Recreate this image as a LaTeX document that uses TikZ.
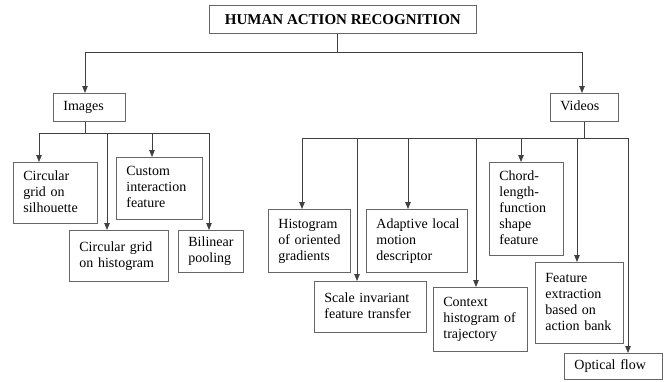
\documentclass[tikz,border=0pt]{standalone}
\usepackage{fontspec}
\setmainfont{Liberation Serif}
\usetikzlibrary{arrows.meta}
\newcommand\lines[1]{\begin{tabular}{@{}l@{}}#1\end{tabular}}
\tikzset{
  box/.style={draw=black!60, line width=0.8pt, anchor=north west, inner xsep=10pt, inner ysep=2pt,
    align=left, font=\fontsize{14}{16}\selectfont},
  conn/.style={draw=black!75, line width=0.8pt},
  arr/.style={conn, -{Triangle[length=7pt,width=5.5pt]}},
}
\begin{document}
\begin{tikzpicture}[x=1pt,y=-1pt]
\useasboundingbox (0,0) rectangle (667,381);
% boxes
\node[box, minimum width=267pt, minimum height=28pt, inner xsep=0pt, align=center,
      font=\fontsize{15}{16}\selectfont\bfseries] (top) at (209,5) {HUMAN ACTION RECOGNITION};
\node[box, text width=52pt, minimum height=28pt] (img) at (53,93) {\lines{Images}};
\node[box, text width=48pt, minimum height=28pt] (vid) at (550,93) {\lines{Videos}};
% image methods
\node[box, text width=64pt, minimum height=61pt] (A) at (13,162) {\lines{Circular\\grid on\\silhouette}};
\node[box, text width=79pt, minimum height=51pt] (B) at (69,230) {\lines{Circular grid\\on histogram}};
\node[box, text width=66pt, minimum height=62pt] (C) at (116,157) {\lines{Custom\\interaction\\feature}};
\node[box, text width=45pt, minimum height=42pt] (D) at (178,230) {\lines{Bilinear\\pooling}};
% video methods
\node[box, text width=62pt, minimum height=63pt] (E) at (268,209) {\lines{Histogram\\of oriented\\gradients}};
\node[box, text width=92pt, minimum height=51pt] (F) at (314,281) {\lines{Scale invariant\\feature transfer}};
\node[box, text width=81pt, minimum height=63pt] (G) at (366,209) {\lines{Adaptive local\\motion\\descriptor}};
\node[box, text width=74pt, minimum height=64pt] (H) at (433,287) {\lines{Context\\histogram of\\trajectory}};
\node[box, text width=54pt, minimum height=93pt] (I) at (489,162) {\lines{Chord-\\length-\\function\\shape\\feature}};
\node[box, text width=68pt, minimum height=81pt] (J) at (535,262) {\lines{Feature\\extraction\\based on\\action bank}};
\node[box, text width=78pt, minimum height=26pt] (K) at (564,353) {\lines{Optical flow}};
% top level connectors
\coordinate (t0) at ([xshift=-6pt]top.south);
\coordinate (bl) at (85,52);
\coordinate (br) at (582,52);
\draw[conn] (t0) -- (t0 |- bl);
\draw[conn] (bl) -- (br);
\draw[arr] (bl) -- (bl |- img.north);
\draw[arr] (br) -- (br |- vid.north);
% images bus
\coordinate (i0) at ([xshift=-4pt]img.south);
\coordinate (iA) at (39,133);
\coordinate (iB) at (107,133);
\coordinate (iC) at (152,133);
\coordinate (iD) at (209,133);
\draw[conn] (i0) -- (i0 |- iA);
\draw[conn] (iA) -- (iD);
\draw[arr] (iA) -- (iA |- A.north);
\draw[arr] (iB) -- (iB |- B.north);
\draw[arr] (iC) -- (iC |- C.north);
\draw[arr] (iD) -- (iD |- D.north);
% videos bus
\coordinate (v0) at (vid.south);
\coordinate (vE) at (302,138);
\coordinate (vF) at (357,138);
\coordinate (vG) at (408,138);
\coordinate (vH) at (476,138);
\coordinate (vI) at (521,138);
\coordinate (vJ) at (577,138);
\coordinate (vK) at (628,138);
\draw[conn] (v0) -- (v0 |- vE);
\draw[conn] (vE) -- (vK);
\draw[arr] (vE) -- (vE |- E.north);
\draw[arr] (vF) -- (vF |- F.north);
\draw[arr] (vG) -- (vG |- G.north);
\draw[arr] (vH) -- (vH |- H.north);
\draw[arr] (vI) -- (vI |- I.north);
\draw[arr] (vJ) -- (vJ |- J.north);
\draw[arr] (vK) -- (vK |- K.north);
\end{tikzpicture}
\end{document}
